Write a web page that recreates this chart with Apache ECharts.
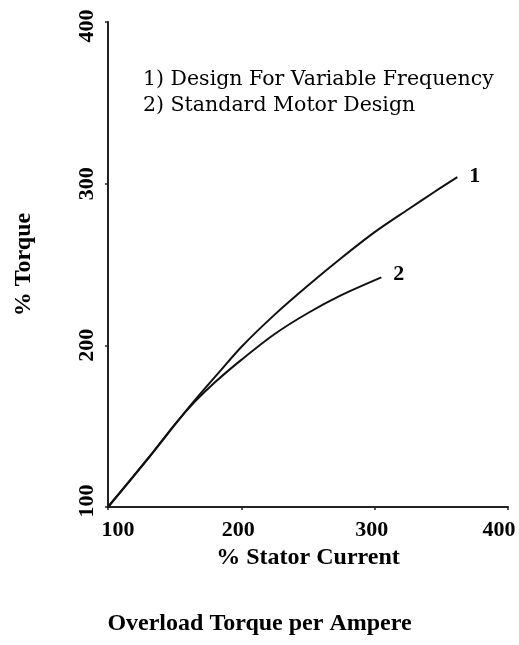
<!DOCTYPE html>
<html>
<head>
<meta charset="utf-8">
<script src="https://cdn.jsdelivr.net/npm/echarts@6/dist/echarts.min.js"></script>
<style>
html,body{margin:0;padding:0;background:#fff;}
#chart{width:519px;height:645px;}
</style>
</head>
<body>
<div id="chart"></div>
<script>
// Data
var seriesNames = ['1', '2'];
var curve1 = [[100,100],[130,130],[162,163],[185,185],[200,199],[225,219],[250,237],[275,254],[300,270],[325,284],[345,295],[362,304]];
var curve2 = [[100,100],[130,130],[150,151],[165,165],[180,177],[200,191],[225,207],[250,220],[275,231],[305,242]];
var xTicks = [100, 200, 300, 400];
var yTicks = [100, 200, 300, 400];
var legendLines = ['1) Design For Variable Frequency', '2) Standard Motor Design'];
var xName = '% Stator Current';
var yName = '% Torque';
var titleText = 'Overload Torque per Ampere';

var boldFont = 'Liberation Serif';
var chart = echarts.init(document.getElementById('chart'));
function mkSeries(name, data, off) {
  return {
    name: name, type: 'line', data: data, smooth: 0.3, symbol: 'none',
    lineStyle: {color: '#111', width: 2},
    endLabel: {show: true, formatter: name, distance: 12, offset: off,
      fontFamily: boldFont, fontWeight: 'bold', fontSize: 22, color: '#000'}
  };
}
var lblStyle = {fontFamily: boldFont, fontWeight: 'bold', fontSize: 22, color: '#000'};
var axisCommon = {
  type: 'value', min: xTicks[0], max: xTicks[xTicks.length-1], interval: 100,
  splitLine: {show: false},
  axisLine: {show: true, lineStyle: {color: '#222', width: 2}},
  axisTick: {show: true, length: 3, lineStyle: {color: '#222', width: 1.5}},
  nameTextStyle: {fontFamily: boldFont, fontWeight: 'bold', fontSize: 24, color: '#000'}
};
chart.setOption({
  animation: false,
  backgroundColor: '#fff',
  title: {text: titleText, left: 'center', top: 612, textStyle: {fontFamily: boldFont, fontWeight: 'bold', fontSize: 24, color: '#000'}, padding: 0},
  grid: {left: 108, right: 11, top: 22, bottom: 138, containLabel: false, outerBoundsMode: 'none'},
  xAxis: Object.assign({}, axisCommon, {
    name: xName, nameLocation: 'middle', nameGap: 37,
    axisLabel: Object.assign({margin: 12,
      formatter: function(v){
        if (v === xTicks[0]) return '{lo|' + v + '}';
        if (v === xTicks[xTicks.length-1]) return '{hi|' + v + '}';
        return xTicks.indexOf(v) >= 0 ? '{m|' + v + '}' : '';
      },
      rich: {
        lo: Object.assign({padding: [0, 0, 0, 20]}, lblStyle),
        hi: Object.assign({padding: [0, 18, 0, 0]}, lblStyle),
        m: Object.assign({padding: [0, 6, 0, 0]}, lblStyle)
      }}, lblStyle)
  }),
  yAxis: Object.assign({}, axisCommon, {
    min: yTicks[0], max: yTicks[yTicks.length-1],
    name: yName, nameLocation: 'middle', nameGap: 72,
    axisLabel: Object.assign({margin: 10, rotate: 90,
      formatter: function(v){
        if (v === yTicks[0]) return '{lo|' + v + '}';
        if (v === yTicks[yTicks.length-1]) return '{hi|' + v + '}';
        return yTicks.indexOf(v) >= 0 ? '{m|' + v + '}' : '';
      },
      rich: {
        lo: Object.assign({padding: [0, 0, 0, 12]}, lblStyle),
        hi: Object.assign({padding: [0, 8, 0, 0]}, lblStyle),
        m: Object.assign({padding: [0, 0, 0, 0]}, lblStyle)
      }}, lblStyle)
  }),
  graphic: legendLines.map(function(t, i){
    return {type: 'text', left: 143, top: 69 + i*26,
      style: {text: t, fontFamily: 'DejaVu Serif', fontSize: 20.5, fill: '#000'}};
  }),
  series: [mkSeries(seriesNames[0], curve1, [0, -1]), mkSeries(seriesNames[1], curve2, [0, -3])]
});
</script>
</body>
</html>
